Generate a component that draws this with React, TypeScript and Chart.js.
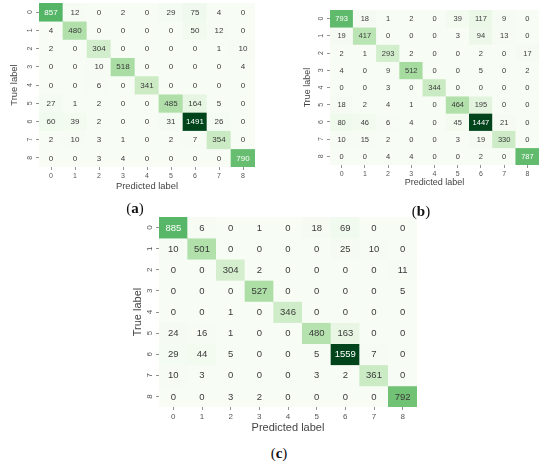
import React, { useEffect, useRef } from 'react';
import { Chart, registerables } from 'chart.js';

Chart.register(...registerables);

const classLabels = ['0', '1', '2', '3', '4', '5', '6', '7', '8'];

const matrixA = [
  [857, 12, 0, 2, 0, 29, 75, 4, 0],
  [4, 480, 0, 0, 0, 0, 50, 12, 0],
  [2, 0, 304, 0, 0, 0, 0, 1, 10],
  [0, 0, 10, 518, 0, 0, 0, 0, 4],
  [0, 0, 6, 0, 341, 0, 0, 0, 0],
  [27, 1, 2, 0, 0, 485, 164, 5, 0],
  [60, 39, 2, 0, 0, 31, 1491, 26, 0],
  [2, 10, 3, 1, 0, 2, 7, 354, 0],
  [0, 0, 3, 4, 0, 0, 0, 0, 790],
];

const matrixB = [
  [793, 18, 1, 2, 0, 39, 117, 9, 0],
  [19, 417, 0, 0, 0, 3, 94, 13, 0],
  [2, 1, 293, 2, 0, 0, 2, 0, 17],
  [4, 0, 9, 512, 0, 0, 5, 0, 2],
  [0, 0, 3, 0, 344, 0, 0, 0, 0],
  [18, 2, 4, 1, 0, 464, 195, 0, 0],
  [80, 46, 6, 4, 0, 45, 1447, 21, 0],
  [10, 15, 2, 0, 0, 3, 19, 330, 0],
  [0, 0, 4, 4, 0, 0, 2, 0, 787],
];

const matrixC = [
  [885, 6, 0, 1, 0, 18, 69, 0, 0],
  [10, 501, 0, 0, 0, 0, 25, 10, 0],
  [0, 0, 304, 2, 0, 0, 0, 0, 11],
  [0, 0, 0, 527, 0, 0, 0, 0, 5],
  [0, 0, 1, 0, 346, 0, 0, 0, 0],
  [24, 16, 1, 0, 0, 480, 163, 0, 0],
  [29, 44, 5, 0, 0, 5, 1559, 7, 0],
  [10, 3, 0, 0, 0, 3, 2, 361, 0],
  [0, 0, 3, 2, 0, 0, 0, 0, 792],
];

const xTitle = 'Predicted label';
const yTitle = 'True label';
const captions = ['a', 'b', 'c'];

const greensStops = ['#f7fcf5', '#e5f5e0', '#c7e9c0', '#a1d99b', '#74c476', '#41ab5d', '#238b45', '#006d2c', '#00441b'];

function hexToRgb(h: string): number[] {
  return [parseInt(h.slice(1, 3), 16), parseInt(h.slice(3, 5), 16), parseInt(h.slice(5, 7), 16)];
}

function greens(t: number): number[] {
  const tt = Math.max(0, Math.min(1, t)) * (greensStops.length - 1);
  const i = Math.min(Math.floor(tt), greensStops.length - 2);
  const f = tt - i;
  const a = hexToRgb(greensStops[i]);
  const b = hexToRgb(greensStops[i + 1]);
  return a.map((v, k) => v + (b[k] - v) * f);
}

function rgbStr(c: number[]): string {
  return `rgb(${Math.round(c[0])},${Math.round(c[1])},${Math.round(c[2])})`;
}

function luminance(c: number[]): number {
  const lin = c.map((v) => {
    const s = v / 255;
    return s <= 0.03928 ? s / 12.92 : Math.pow((s + 0.055) / 1.055, 2.4);
  });
  return 0.2126 * lin[0] + 0.7152 * lin[1] + 0.0722 * lin[2];
}

const FONT = "'Liberation Sans', Arial, sans-serif";

const cellTextPlugin = {
  id: 'cellText',
  afterDatasetsDraw(chart: any, _args: any, opts: any) {
    const { ctx } = chart;
    const matrix: number[][] = opts.matrix;
    const max = Math.max(...matrix.flat());
    ctx.save();
    ctx.font = `${opts.size}px ${FONT}`;
    ctx.textAlign = 'center';
    ctx.textBaseline = 'middle';
    chart.data.datasets.forEach((_ds: any, i: number) => {
      const meta = chart.getDatasetMeta(i);
      meta.data.forEach((el: any, j: number) => {
        const p = el.getProps(['x', 'y', 'base'], true);
        const v = matrix[i][j];
        const col = greens(v / max);
        ctx.fillStyle = luminance(col) > 0.42 ? '#3a3a3a' : '#ffffff';
        ctx.fillText(String(v), p.x, (p.y + p.base) / 2 + 0.5);
      });
    });
    ctx.restore();
  },
};

type PanelCfg = {
  matrix: number[][];
  left: number;
  top: number;
  width: number;
  height: number;
  pad: { left: number; top: number; right: number; bottom: number };
  yWidth: number;
  xHeight: number;
  tickSize: number;
  cellSize: number;
  titleSize: number;
};

const panels: PanelCfg[] = [
  {
    matrix: matrixA, left: 0, top: 0, width: 265, height: 200,
    pad: { left: 8.6, top: 3, right: 10, bottom: 7.6 }, yWidth: 30.4, xHeight: 25.4,
    tickSize: 7, cellSize: 8, titleSize: 9.4,
  },
  {
    matrix: matrixB, left: 270, top: 0, width: 280, height: 200,
    pad: { left: 32.6, top: 10, right: 11, bottom: 11.6 }, yWidth: 27.4, xHeight: 23.4,
    tickSize: 7, cellSize: 7.5, titleSize: 9,
  },
  {
    matrix: matrixC, left: 130, top: 210, width: 300, height: 230,
    pad: { left: 1.4, top: 7, right: 13, bottom: 5.4 }, yWidth: 27.6, xHeight: 27.6,
    tickSize: 8, cellSize: 9.5, titleSize: 11,
  },
];

function Heatmap({ cfg }: { cfg: PanelCfg }) {
  const ref = useRef<HTMLCanvasElement | null>(null);
  useEffect(() => {
    if (!ref.current) return;
    const max = Math.max(...cfg.matrix.flat());
    const datasets = cfg.matrix.map((row, i) => ({
      label: `${yTitle} ${classLabels[i]}`,
      data: row.map(() => [i, i + 1]),
      backgroundColor: row.map((v) => rgbStr(greens(v / max))),
      borderWidth: 0,
      barPercentage: 1,
      categoryPercentage: 1,
      grouped: false,
    }));
    const chart = new Chart(ref.current, {
      type: 'bar',
      data: { labels: classLabels, datasets: datasets as any },
      plugins: [cellTextPlugin as any],
      options: {
        animation: false,
        responsive: false,
        maintainAspectRatio: false,
        devicePixelRatio: 1,
        layout: { padding: cfg.pad },
        plugins: {
          legend: { display: false },
          tooltip: { enabled: false },
          cellText: { matrix: cfg.matrix, size: cfg.cellSize },
        } as any,
        scales: {
          x: {
            type: 'category',
            offset: true,
            grid: { display: true, drawOnChartArea: false, drawTicks: true, tickLength: 3, offset: false, color: '#777', lineWidth: 0.8 },
            border: { display: false },
            ticks: { font: { size: cfg.tickSize, family: FONT }, color: '#555', padding: 1.5, maxRotation: 0, minRotation: 0, autoSkip: false },
            title: { display: true, text: xTitle, font: { size: cfg.titleSize, family: FONT }, color: '#444', padding: 0 },
            afterFit: (s: any) => { s.height = cfg.xHeight; s.paddingLeft = 0; s.paddingRight = 0; },
          },
          y: {
            type: 'linear',
            min: 0,
            max: classLabels.length,
            reverse: true,
            afterBuildTicks: (s: any) => { s.ticks = classLabels.map((_l, i) => ({ value: i + 0.5 })); },
            grid: { display: true, drawOnChartArea: false, drawTicks: true, tickLength: 3, color: '#777', lineWidth: 0.8 },
            border: { display: false },
            ticks: {
              font: { size: cfg.tickSize, family: FONT }, color: '#555', padding: 4,
              minRotation: 90, maxRotation: 90, crossAlign: 'center', autoSkip: false,
              callback: (v: any) => classLabels[Math.floor(Number(v))],
            },
            title: { display: true, text: yTitle, font: { size: cfg.titleSize, family: FONT }, color: '#444', padding: 0 },
            afterFit: (s: any) => { s.width = cfg.yWidth; s.paddingTop = 0; s.paddingBottom = 0; },
          },
        },
      } as any,
    });
    return () => chart.destroy();
  }, [cfg]);
  return (
    <canvas
      ref={ref}
      width={cfg.width}
      height={cfg.height}
      style={{ position: 'absolute', left: cfg.left, top: cfg.top, width: cfg.width, height: cfg.height }}
    />
  );
}

const captionPos = [
  { x: 135, y: 208 },
  { x: 421, y: 211 },
  { x: 279, y: 453 },
];

export default function App() {
  return (
    <div style={{ position: 'absolute', left: 0, top: 0, width: 550, height: 466, background: '#fff', overflow: 'hidden' }}>
      {panels.map((p, i) => (
        <Heatmap key={i} cfg={p} />
      ))}
      {captions.map((c, i) => (
        <div
          key={c}
          style={{
            position: 'absolute', left: captionPos[i].x, top: captionPos[i].y,
            transform: 'translate(-50%, -50%)', fontFamily: "'Liberation Serif', 'Times New Roman', serif",
            fontSize: 15, color: '#111', whiteSpace: 'nowrap', lineHeight: 1,
          }}
        >
          (<b>{c}</b>)
        </div>
      ))}
    </div>
  );
}
